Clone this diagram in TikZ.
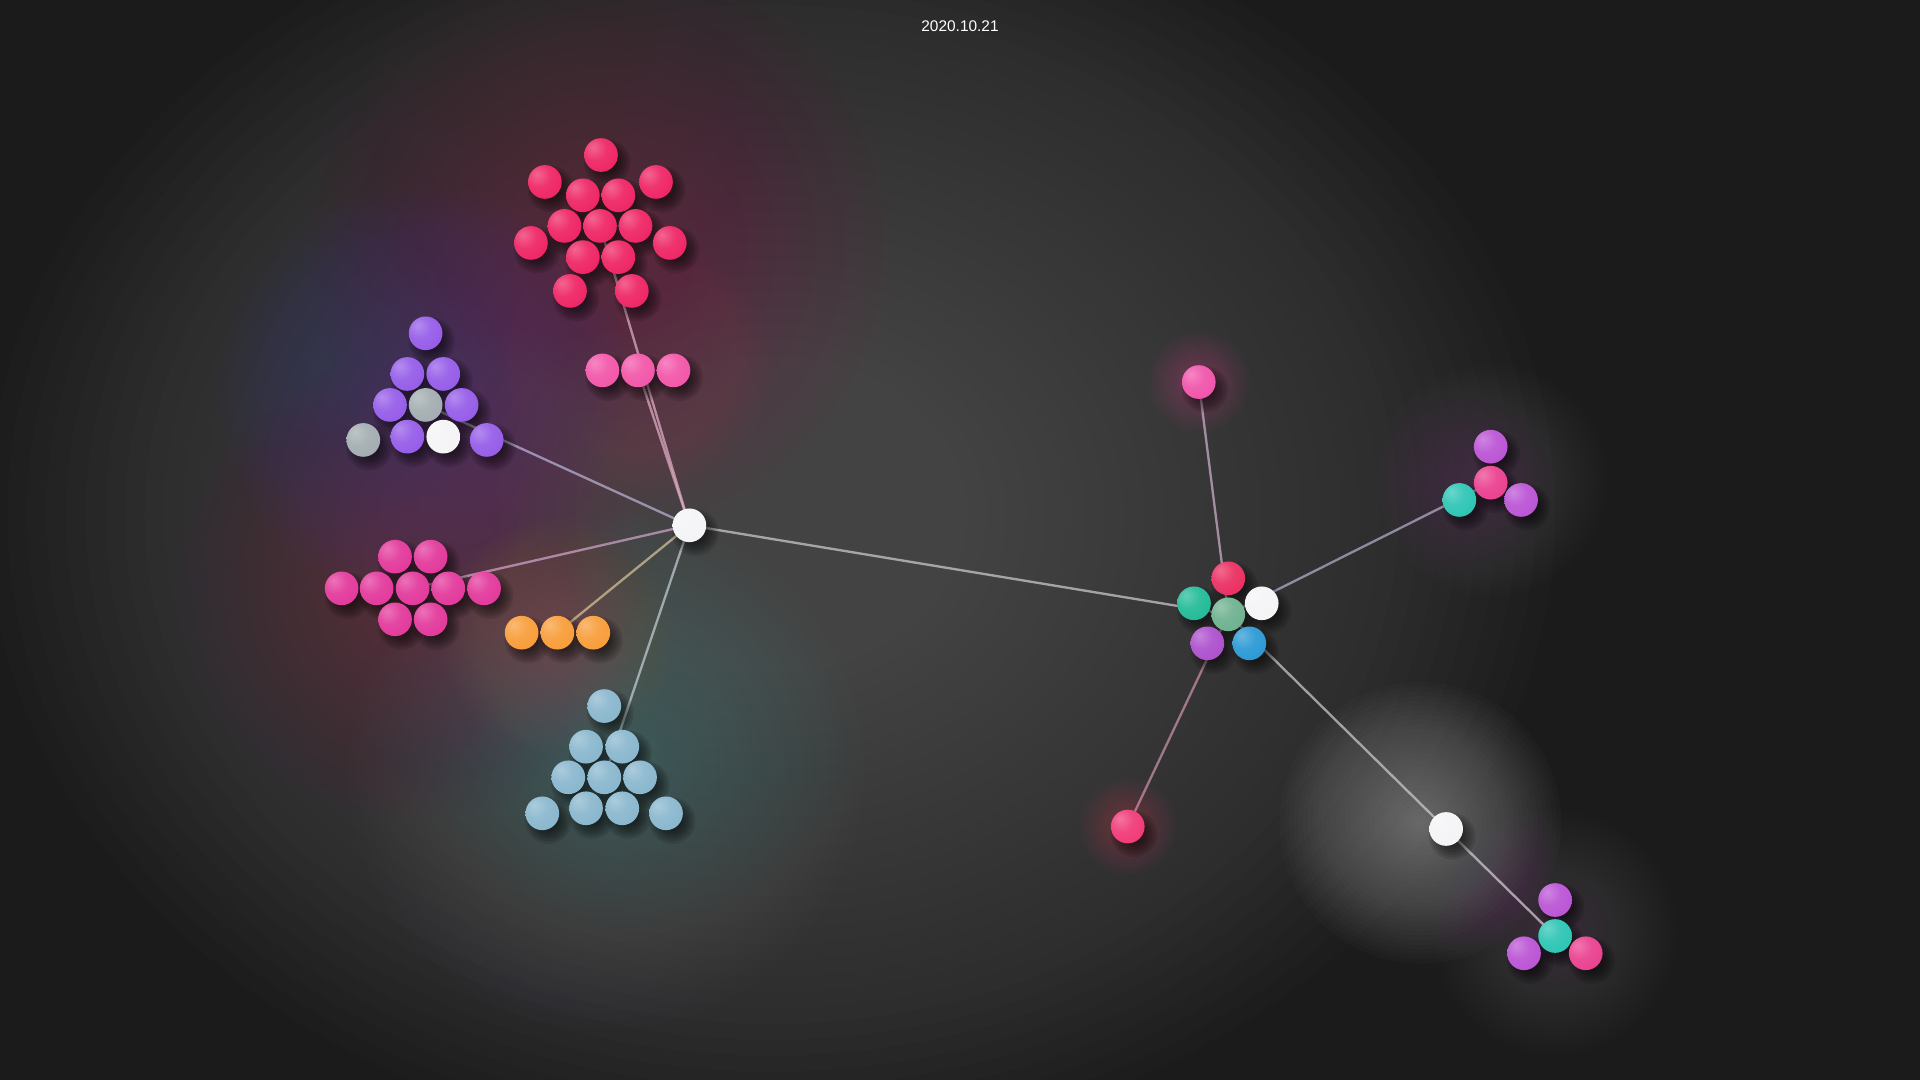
\documentclass[tikz,border=0pt]{standalone}
\usepackage{fontspec}
\setmainfont{Liberation Sans}
\colorlet{ballc}{white}
\pgfdeclareradialshading[ballc]{sphere}{\pgfpoint{-12bp}{12bp}}{%
  color(0bp)=(ballc!70!white); color(18bp)=(ballc!92!white); color(40bp)=(ballc); color(62bp)=(ballc!84!black); color(100bp)=(ballc!84!black)}
\pgfdeclarelayer{bg}
\pgfdeclarelayer{edges}
\pgfdeclarelayer{shadows}
\pgfsetlayers{bg,edges,shadows,main}
\definecolor{bgc}{RGB}{27,27,28}
\definecolor{cred}{RGB}{238,34,98}
\definecolor{cpink}{RGB}{242,84,168}
\definecolor{cpurple}{RGB}{148,90,232}
\definecolor{cgray}{RGB}{162,172,176}
\definecolor{cwhite}{RGB}{244,244,246}
\definecolor{cmag}{RGB}{226,54,154}
\definecolor{corange}{RGB}{248,156,56}
\definecolor{clblue}{RGB}{136,182,205}
\definecolor{cbred}{RGB}{234,44,96}
\definecolor{cteal}{RGB}{32,186,150}
\definecolor{csage}{RGB}{108,176,142}
\definecolor{cviolet}{RGB}{172,78,204}
\definecolor{cblue}{RGB}{40,152,212}
\definecolor{tpurple}{RGB}{186,82,212}
\definecolor{tpink}{RGB}{234,62,142}
\definecolor{tteal}{RGB}{42,196,180}
\definecolor{spink}{RGB}{240,82,170}
\definecolor{sred}{RGB}{240,56,118}
% glow colours
\definecolor{gcenter}{RGB}{90,90,90}
\definecolor{gright}{RGB}{80,80,86}
\definecolor{gred}{RGB}{140,40,75}
\definecolor{gpink}{RGB}{150,70,120}
\definecolor{gpurple}{RGB}{80,70,150}
\definecolor{gmag}{RGB}{130,45,100}
\definecolor{gorange}{RGB}{160,105,60}
\definecolor{gblue}{RGB}{110,135,150}
\definecolor{gwhite}{RGB}{175,175,175}
\definecolor{gviolet}{RGB}{135,105,145}
% link colours
\definecolor{lred}{RGB}{225,175,195}
\definecolor{lpink}{RGB}{225,175,200}
\definecolor{lpurple}{RGB}{185,180,215}
\definecolor{lmag}{RGB}{210,165,200}
\definecolor{lorange}{RGB}{215,195,155}
\definecolor{lblue}{RGB}{195,205,212}
\definecolor{lgray}{RGB}{205,205,210}
\definecolor{lsp}{RGB}{205,175,205}
\definecolor{lsr}{RGB}{205,145,175}
\definecolor{lrt}{RGB}{180,175,205}
\definecolor{lbr}{RGB}{215,205,215}
\tikzset{
  sph/.style={circle, inner sep=0pt, minimum size=27.5pt, /utils/exec={\colorlet{ballc}{#1}}, shade, shading=sphere},
  link/.style={line width=1.9pt, draw=#1, draw opacity=0.72},
}
% soft disc: centre, radius, colour, opacity per step
\newcommand{\glowdisc}[4]{%
  \foreach \k [evaluate=\k as \rr using (#2/30)*\k] in {1,...,30} {\fill[#3, fill opacity=#4] (#1) circle (\rr pt);}}
\begin{document}
\begin{tikzpicture}[x=1pt, y=-1pt]
\useasboundingbox (0,0) rectangle (1568,882);
\begin{pgfonlayer}{bg}
\clip (0,0) rectangle (1568,882);
\fill[bgc] (0,0) rectangle (1568,882);
\foreach \k [evaluate=\k as \rx using 16*\k, evaluate=\k as \ry using 13*\k] in {1,...,40}
  {\fill[gcenter, fill opacity=0.045] (630,420) ellipse [x radius=\rx pt, y radius=\ry pt];}
\glowdisc{1020,520}{380}{gright}{0.012}
\glowdisc{490,200}{240}{gred}{0.018}
\glowdisc{520,300}{110}{gpink}{0.015}
\glowdisc{345,320}{170}{gpurple}{0.023}
\glowdisc{335,480}{190}{gmag}{0.02}
\glowdisc{455,520}{95}{gorange}{0.02}
\glowdisc{495,630}{210}{gblue}{0.018}
\glowdisc{1160,672}{115}{gwhite}{0.027}
\glowdisc{979,312}{42}{spink}{0.015}
\glowdisc{921,675}{40}{sred}{0.015}
\glowdisc{1218,392}{95}{gviolet}{0.014}
\glowdisc{1270,762}{100}{gviolet}{0.017}
\end{pgfonlayer}

\node[text=white, font=\fontsize{12.6}{14}\selectfont] (title) at (784,21) {2020.10.21};

% top red cluster
\node[sph=cred] (tr1) at (490.8,126.6) {};
\node[sph=cred] (tr2) at (445,148.6) {};
\node[sph=cred] (tr3) at (535.7,148.6) {};
\node[sph=cred] (tr4) at (476,159.5) {};
\node[sph=cred] (tr5) at (505,159.5) {};
\node[sph=cred] (tr6) at (461,184.5) {};
\node[sph=cred] (tr7) at (490,184.5) {};
\node[sph=cred] (tr8) at (519,184.5) {};
\node[sph=cred] (tr9) at (433.6,198.4) {};
\node[sph=cred] (tr10) at (547,198.4) {};
\node[sph=cred] (tr11) at (476,210) {};
\node[sph=cred] (tr12) at (505,210) {};
\node[sph=cred] (tr13) at (465.5,237.6) {};
\node[sph=cred] (tr14) at (516,237.6) {};
% pink trio
\node[sph=cpink] (pt1) at (492,302.5) {};
\node[sph=cpink] (pt2) at (521,302.5) {};
\node[sph=cpink] (pt3) at (550,302.5) {};
% purple cluster
\node[sph=cpurple] (pu1) at (347.6,272.2) {};
\node[sph=cpurple] (pu2) at (332.7,305.4) {};
\node[sph=cpurple] (pu3) at (362,305.4) {};
\node[sph=cpurple] (pu4) at (318.5,330.7) {};
\node[sph=cgray] (pu5) at (347.6,330.7) {};
\node[sph=cpurple] (pu6) at (377,330.7) {};
\node[sph=cgray] (pu7) at (296.7,359.3) {};
\node[sph=cpurple] (pu8) at (332.7,356.6) {};
\node[sph=cwhite] (pu9) at (362,356.6) {};
\node[sph=cpurple] (pu10) at (397.5,359.3) {};
% magenta cluster
\node[sph=cmag] (mg1) at (322.6,454.6) {};
\node[sph=cmag] (mg2) at (351.7,454.6) {};
\node[sph=cmag] (mg3) at (279,480.5) {};
\node[sph=cmag] (mg4) at (307.6,480.5) {};
\node[sph=cmag] (mg5) at (337,480.5) {};
\node[sph=cmag] (mg6) at (366.1,480.5) {};
\node[sph=cmag] (mg7) at (395.3,480.5) {};
\node[sph=cmag] (mg8) at (322.6,505.8) {};
\node[sph=cmag] (mg9) at (351.7,505.8) {};
% orange
\node[sph=corange] (or1) at (426,516.7) {};
\node[sph=corange] (or2) at (455.2,516.7) {};
\node[sph=corange] (or3) at (484.5,516.7) {};
% light blue cluster
\node[sph=clblue] (lb1) at (493.5,576.6) {};
\node[sph=clblue] (lb2) at (478.6,609.8) {};
\node[sph=clblue] (lb3) at (508.2,609.8) {};
\node[sph=clblue] (lb4) at (464.1,634.8) {};
\node[sph=clblue] (lb5) at (493.5,634.8) {};
\node[sph=clblue] (lb6) at (522.7,634.8) {};
\node[sph=clblue] (lb7) at (442.9,664.2) {};
\node[sph=clblue] (lb8) at (478.6,660.1) {};
\node[sph=clblue] (lb9) at (508.2,660.1) {};
\node[sph=clblue] (lb10) at (543.9,664.2) {};
% hubs
\node[sph=cwhite] (A) at (563,429) {};
\node[sph=cwhite] (C) at (1181,677) {};
% central cluster
\node[sph=cbred] (b1) at (1003.1,472.3) {};
\node[sph=cteal] (b2) at (975.1,492.7) {};
\node[sph=csage] (B) at (1003.1,501.7) {};
\node[sph=cwhite] (b4) at (1030.4,492.7) {};
\node[sph=cviolet] (b5) at (986,525.4) {};
\node[sph=cblue] (b6) at (1020.3,525.4) {};
% singles
\node[sph=spink] (sp) at (979,312) {};
\node[sph=sred] (sr) at (921,675) {};
% right trio
\node[sph=tpurple] (rt1) at (1217.4,364.8) {};
\node[sph=tpink] (rt2) at (1217.4,394.2) {};
\node[sph=tteal] (rt3) at (1191.8,408.3) {};
\node[sph=tpurple] (rt4) at (1242.2,408.3) {};
% bottom right
\node[sph=tpurple] (br1) at (1270,735) {};
\node[sph=tteal] (br2) at (1270,764.4) {};
\node[sph=tpurple] (br3) at (1244.6,778.5) {};
\node[sph=tpink] (br4) at (1295,778.5) {};

\begin{pgfonlayer}{shadows}
\foreach \n in {tr1,tr2,tr3,tr4,tr5,tr6,tr7,tr8,tr9,tr10,tr11,tr12,tr13,tr14,pt1,pt2,pt3,pu1,pu2,pu3,pu4,pu5,pu6,pu7,pu8,pu9,pu10,mg1,mg2,mg3,mg4,mg5,mg6,mg7,mg8,mg9,or1,or2,or3,lb1,lb2,lb3,lb4,lb5,lb6,lb7,lb8,lb9,lb10,A,C,b1,b2,B,b4,b5,b6,sp,sr,rt1,rt2,rt3,rt4,br1,br2,br3,br4}
  {\foreach \s in {9,11,13,15,17,19}
    {\fill[black, fill opacity=0.11] ([shift={(5pt,-6pt)}]\n.center) circle (\s pt);}}
\end{pgfonlayer}

\begin{pgfonlayer}{edges}
\draw[link=lred] (A.center) -- (tr7.center);
\draw[link=lpink] (A.center) -- (pt2.center);
\draw[link=lpurple] (A.center) -- (pu5.center);
\draw[link=lmag] (A.center) -- (mg5.center);
\draw[link=lorange] (A.center) -- (or2.center);
\draw[link=lblue] (A.center) -- (lb5.center);
\draw[link=lgray] (A.center) -- (B.center);
\draw[link=lsp] (B.center) -- (sp.center);
\draw[link=lsr] (B.center) -- (sr.center);
\draw[link=lrt] (B.center) -- (rt2.center);
\draw[link=lgray] (B.center) -- (C.center);
\draw[link=lbr] (C.center) -- (br2.center);
\end{pgfonlayer}
\end{tikzpicture}
\end{document}
